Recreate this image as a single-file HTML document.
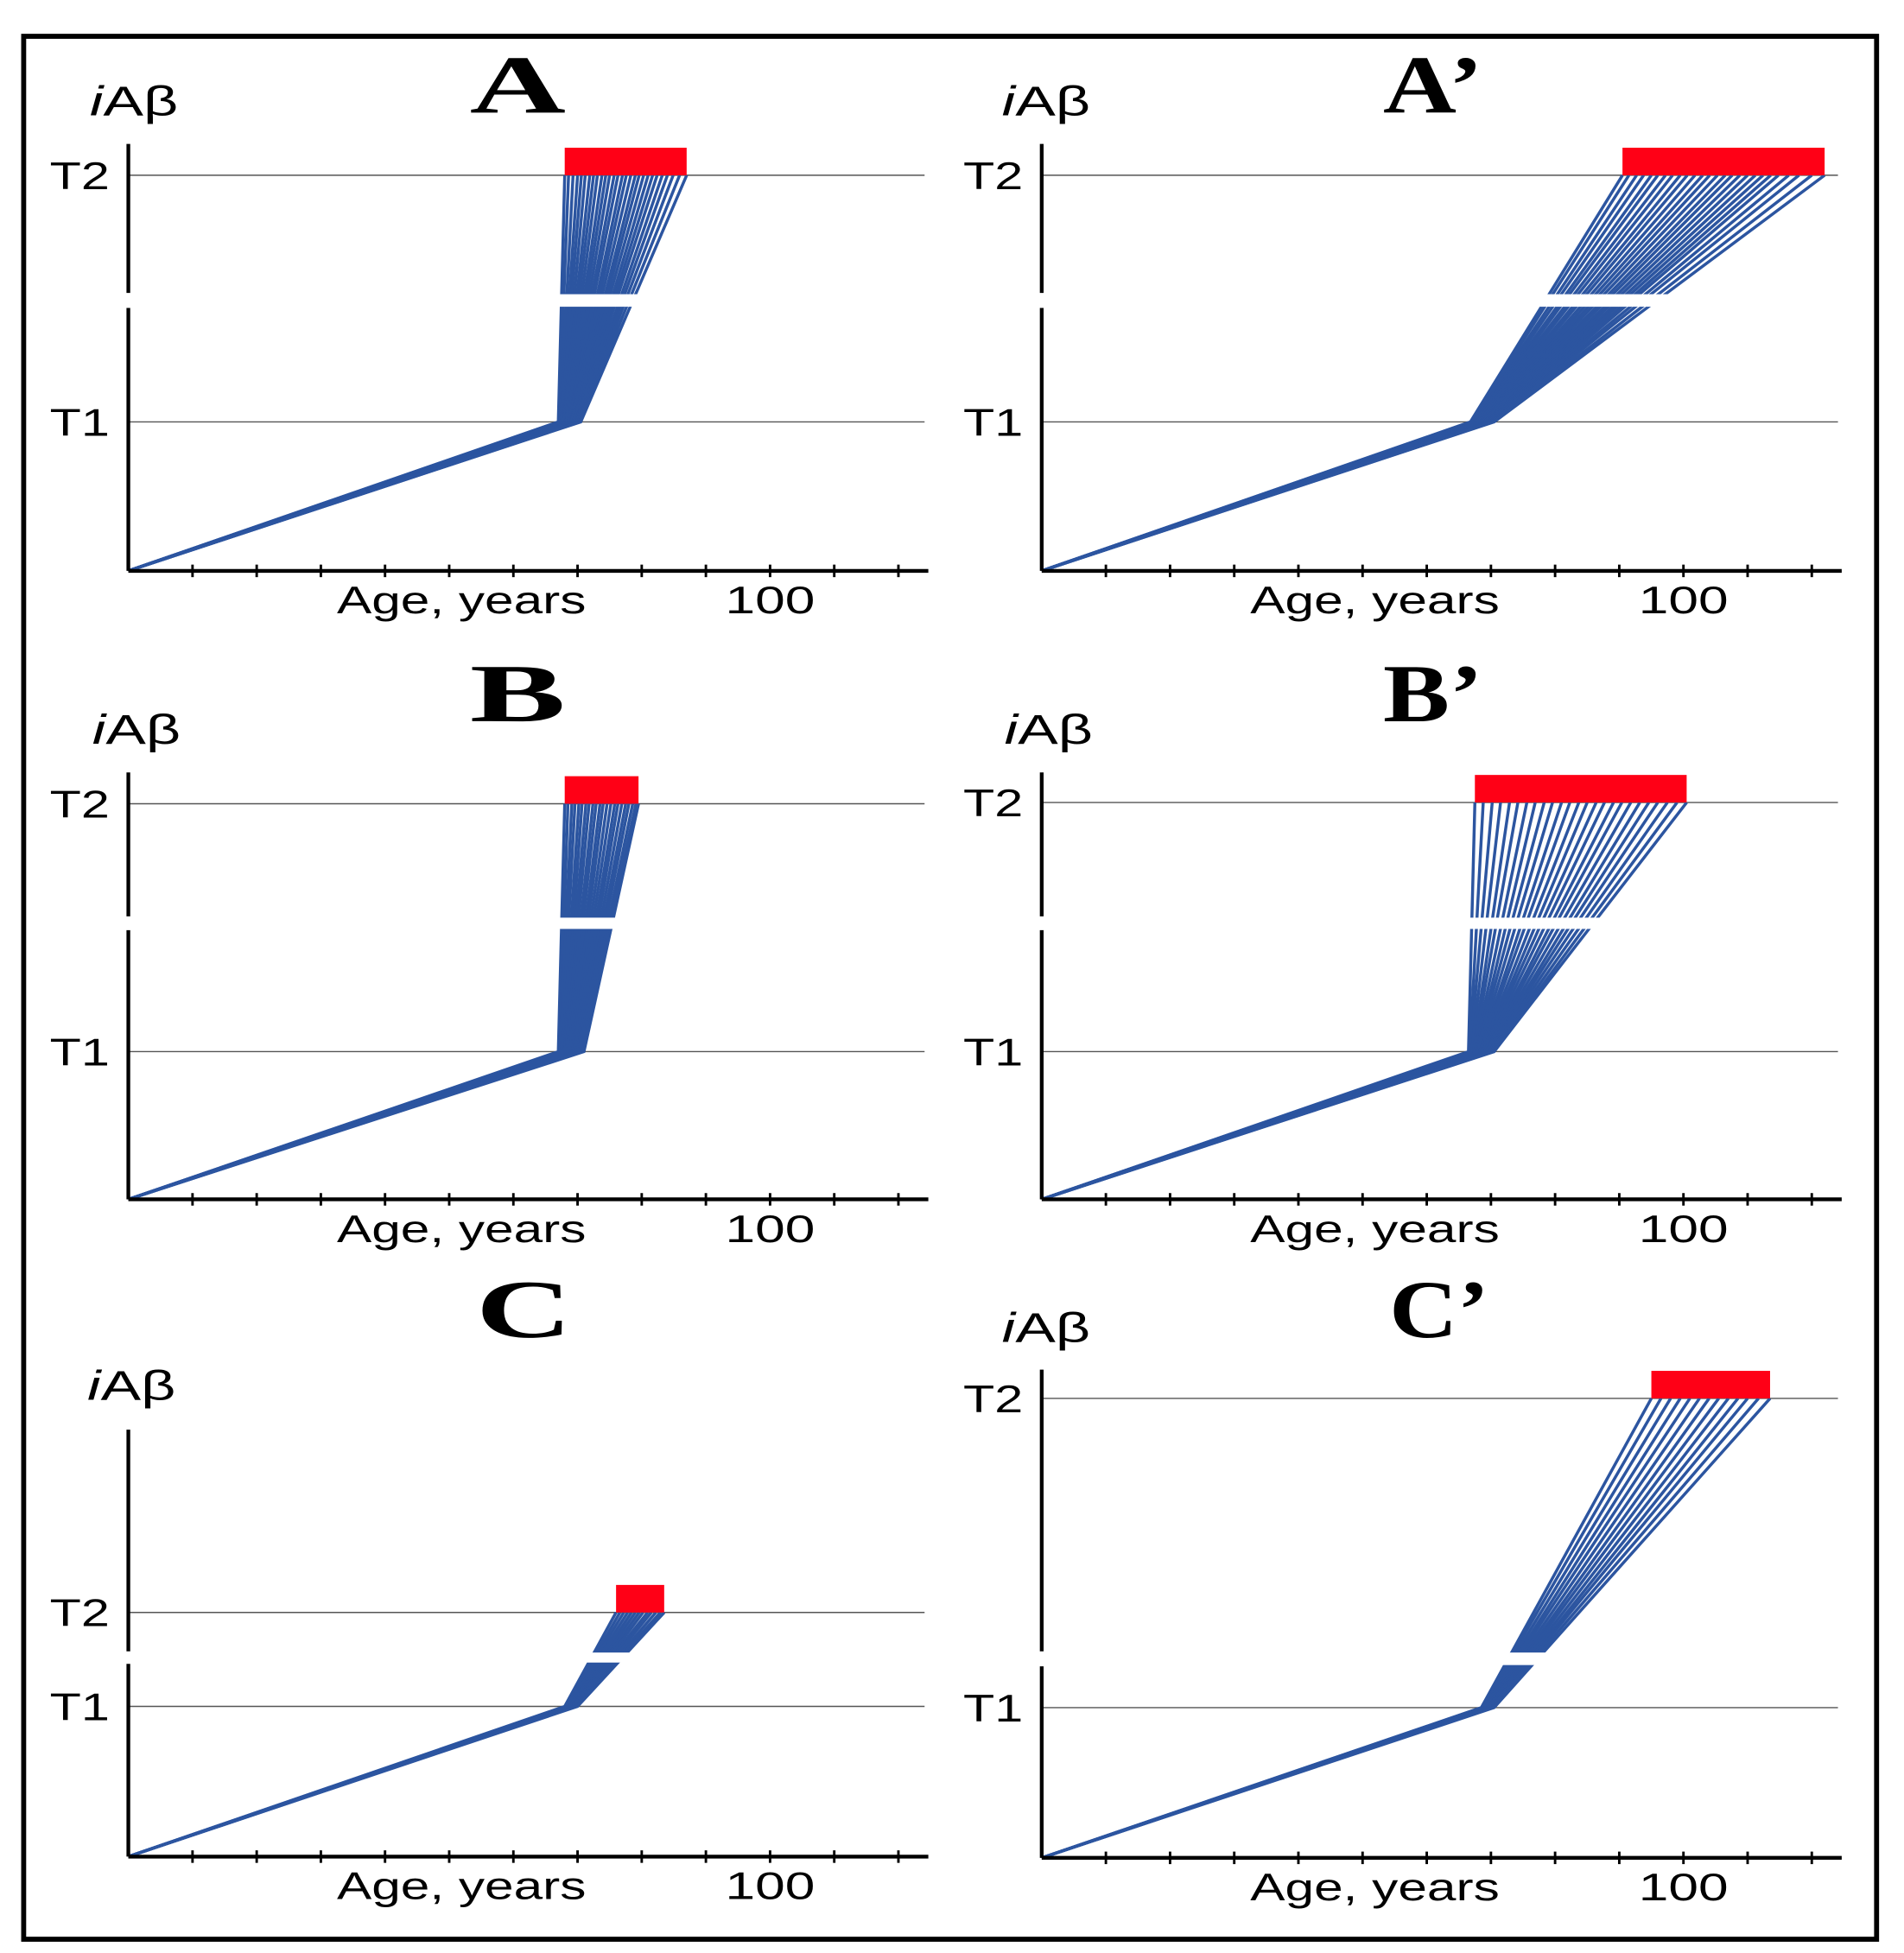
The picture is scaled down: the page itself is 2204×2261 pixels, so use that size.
<!DOCTYPE html>
<html><head><meta charset="utf-8"><style>
html,body{margin:0;padding:0;background:#fff;}
svg{display:block;}
</style></head><body>
<svg id="fig" width="2204" height="2261" viewBox="0 0 1528 1560" preserveAspectRatio="none" xmlns="http://www.w3.org/2000/svg">
<rect x="0" y="0" width="1528" height="1560" fill="#fff"/>
<rect x="19" y="29" width="1487" height="1520" fill="none" stroke="#000" stroke-width="4"/>
</svg>
<script>
// ages (years) where each trajectory crosses T1 (knee) and reaches T2 (onset)
const kneeA  = [67,67.1,67.3,67.4,67.5,67.7,67.8,67.9,68.1,68.2,68.3,68.5,68.6,68.7,68.9,69,69.1,69.3,69.4,69.5,69.7,69.8,69.9,70.1,70.2,70.3,70.4,70.5];
const onsetA = [68,68.6,69.3,70,70.6,71.2,71.9,72.5,73.1,73.8,74.4,75,75.7,76.3,77,77.6,78.3,79,79.6,80.3,81,81.7,82.4,83.2,84,84.9,85.9,87];
const kneeA2  = [66.8,66.9,67.1,67.2,67.4,67.5,67.7,67.8,68,68.1,68.3,68.4,68.6,68.7,68.9,69,69.2,69.3,69.5,69.6,69.8,69.9,70.1,70.2,70.4,70.5];
const onsetA2 = [90.5,91.5,92.7,93.8,95,96,97.2,98.3,99.5,100.6,101.8,103,104.1,105.3,106.5,107.6,108.8,110,111.2,112.4,113.6,114.8,116.4,118,120,122];
const kneeB  = [67,67.2,67.3,67.5,67.7,67.9,68,68.2,68.4,68.6,68.8,69,69.2,69.4,69.6,69.8,70,70.2,70.4,70.6,70.8,71];
const onsetB = [68,68.5,69.1,69.6,70.2,70.7,71.3,71.8,72.4,72.9,73.5,74,74.6,75.2,75.8,76.3,76.9,77.5,78,78.6,79.1,79.5];
const kneeB2  = [66.5,66.7,66.8,67,67.2,67.3,67.5,67.7,67.8,68,68.2,68.3,68.5,68.7,68.8,69,69.2,69.3,69.5,69.7,69.8,70,70.2,70.4,70.5];
const onsetB2 = [67.5,68.8,70.2,71.5,72.9,74.2,75.6,76.9,78.3,79.6,81,82.3,83.7,85,86.4,87.7,89.1,90.4,91.8,93.2,94.6,96,97.5,99,100.5];
const kneeC  = [68,68.2,68.3,68.5,68.7,68.8,69,69.2,69.3,69.5,69.7,69.8,70];
const onsetC = [76,76.6,77.2,77.8,78.4,79,79.6,80.2,80.9,81.5,82.2,82.9,83.5];
const kneeC2  = [68.5,68.6,68.8,69,69.1,69.3,69.5,69.6,69.8,70,70.1,70.3,70.5];
const onsetC2 = [95,96.5,98,99.5,101,102.5,104,105.5,107,108.5,110,111.7,113.5];
const xTicks = [10,20,30,40,50,60,70,80,90,100,110,120];

const panels = [
 {id:'a', title:'A', x0:103, xEnd:745, yB:456, t1:337, t2:140, yTop:115, gap:[235,245], knee:kneeA, onset:onsetA, tx:415, ty:90, lx:72, ly:92},
 {id:'a-prime', title:'A’', x0:836, xEnd:1478, yB:456, t1:337, t2:140, yTop:115, gap:[235,245], knee:kneeA2, onset:onsetA2, tx:1150, ty:90, lx:804, ly:92},
 {id:'b', title:'B', x0:103, xEnd:745, yB:958, t1:840, t2:642, yTop:617, gap:[733,742], knee:kneeB, onset:onsetB, tx:415, ty:576, lx:74, ly:594},
 {id:'b-prime', title:'B’', x0:836, xEnd:1478, yB:958, t1:840, t2:641, yTop:617, gap:[733,742], knee:kneeB2, onset:onsetB2, tx:1150, ty:576, lx:806, ly:594},
 {id:'c', title:'C', x0:103, xEnd:745, yB:1483, t1:1363, t2:1288, yTop:1142, gap:[1320,1328], knee:kneeC, onset:onsetC, tx:420, ty:1068, lx:70, ly:1118},
 {id:'c-prime', title:'C’', x0:836, xEnd:1478, yB:1484, t1:1364, t2:1117, yTop:1094, gap:[1320,1330], knee:kneeC2, onset:onsetC2, tx:1155, ty:1068, lx:804, ly:1072}
];
const PX = 5.15;
const NS='http://www.w3.org/2000/svg';
const svg=document.getElementById('fig');
function mk(tag,attrs,parent){const e=document.createElementNS(NS,tag);for(const k in attrs)e.setAttribute(k,attrs[k]);(parent||svg).appendChild(e);return e;}
const FONT='Liberation Sans, DejaVu Sans, sans-serif';
panels.forEach(p=>{
  const g=mk('g',{});
  
  
  const xs=a=>p.x0+a*PX;
  [['t2',p.t2],['t1',p.t1]].forEach(([n,y])=>{
    const l=mk('line',{x1:p.x0,x2:p.xEnd-3,y1:y,y2:y,stroke:'#555','stroke-width':1},g);
    
    
    const t=mk('text',{x:(p.x0>500?773:40),y:y+11,'font-family':FONT,'font-size':31,fill:'#000',textLength:48,lengthAdjust:'spacingAndGlyphs'},g);
    t.textContent=n.toUpperCase();
    
    
  });
  const minOn=Math.min(...p.onset), maxOn=Math.max(...p.onset);
  p.knee.forEach((k,i)=>{
    const pl=mk('polyline',{points:`${p.x0},${p.yB} ${xs(k)},${p.t1} ${xs(p.onset[i])},${p.t2}`,fill:'none',stroke:'#2c55a0','stroke-width':2.4,'stroke-linejoin':'miter'},g);
    
    
  });
  const gp=mk('rect',{x:p.x0-5,y:p.gap[0],width:p.xEnd-p.x0,height:p.gap[1]-p.gap[0],fill:'#fff'},g);
  
  
  const rb=mk('rect',{x:xs(minOn),y:p.t2-22,width:(maxOn-minOn)*PX,height:22,fill:'#ff0016'},g);
  
  
  const ya1=mk('line',{x1:p.x0,x2:p.x0,y1:p.yTop,y2:p.gap[0]-1,stroke:'#000','stroke-width':3},g);
  
  
  const ya2=mk('line',{x1:p.x0,x2:p.x0,y1:p.gap[1]+1,y2:p.yB,stroke:'#000','stroke-width':3},g);
  
  
  const xa=mk('line',{x1:p.x0,x2:p.xEnd,y1:p.yB,y2:p.yB,stroke:'#000','stroke-width':3},g);
  
  
  xTicks.forEach(v=>{
    const tk=mk('line',{x1:xs(v),x2:xs(v),y1:p.yB-5,y2:p.yB+5,stroke:'#000','stroke-width':2},g);
    
    
  });
  const h=mk('text',{x:xs(100)-36,y:p.yB+34,'font-family':FONT,'font-size':31,fill:'#000',textLength:72,lengthAdjust:'spacingAndGlyphs'},g);
  h.textContent='100';
  
  
  const xt=mk('text',{x:xs(32.5),y:p.yB+34,'font-family':FONT,'font-size':31,fill:'#000',textLength:200,lengthAdjust:'spacingAndGlyphs'},g);
  xt.textContent='Age, years';
  
  
  const yt=mk('text',{x:p.lx,y:p.ly,'font-family':FONT,'font-size':33,fill:'#000',textLength:71,lengthAdjust:'spacingAndGlyphs'},g);
  yt.innerHTML='<tspan font-style="italic">i</tspan>Aβ';
  
  
  const tt=mk('text',{x:p.tx-(p.title.length>1?40:38),y:p.ty,'font-family':'Liberation Serif, serif','font-weight':'bold','font-size':66,fill:'#000',textLength:(p.title.length>1?80:77),lengthAdjust:'spacingAndGlyphs'},g);
  tt.textContent=p.title;
  
  
});
</script>
</body></html>
